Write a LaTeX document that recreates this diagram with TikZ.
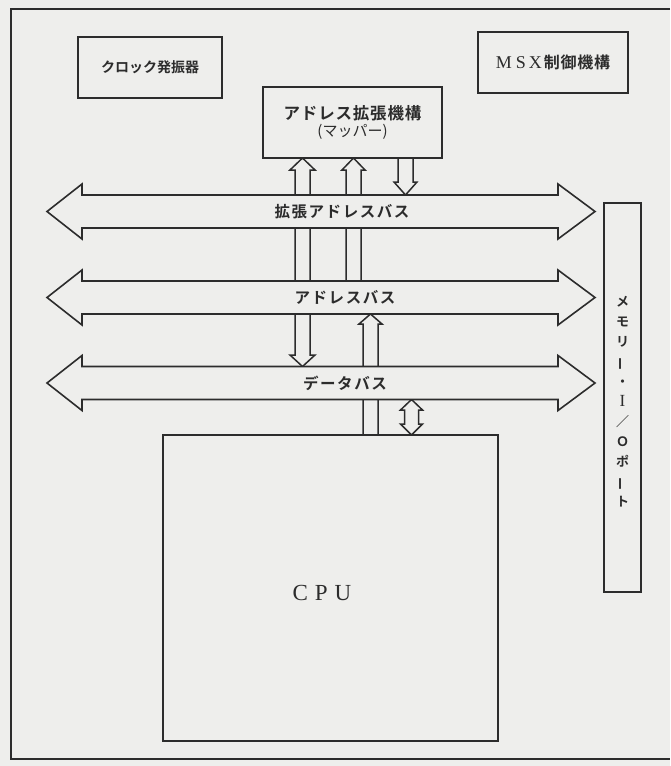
\documentclass[tikz,border=0pt]{standalone}
\usepackage{fontspec}
\usepackage{graphicx}
\setmainfont{Liberation Serif}
\newfontfamily\jp{Noto Sans CJK JP}
\newfontfamily\jpb{Noto Sans CJK JP Bold}
\newfontfamily\jpbls[LetterSpace=10]{Noto Sans CJK JP Bold}
\newfontfamily\jpblsb[LetterSpace=5]{Noto Sans CJK JP Bold}
\definecolor{ink}{HTML}{2C2C2C}
\definecolor{bg}{HTML}{EEEEEC}
\newcommand\vbar{\rotatebox[origin=c]{90}{ー}}
\begin{document}
\begin{tikzpicture}[x=1pt,y=-1pt,
  every node/.style={inner sep=0pt, text=ink},
  blockbox/.style={draw=ink, fill=bg, line width=1.6pt, minimum width=#1},
  conn/.style={draw=ink, fill=bg, line width=1.5pt, line join=miter},
  busline/.style={draw=ink, fill=bg, line width=1.6pt, line join=miter},
  buslabel/.style={font=\jpbls\fontsize{15.5}{18}\selectfont},
  frame/.style={draw=ink, line width=1.4pt}]
\useasboundingbox[fill=bg] (0,0) rectangle (670,766);
\draw[frame] (670,9) -- (11,9) -- (11,759) -- (670,759);

% connectors (drawn first, covered by boxes and buses)
% A: mapper <-> data bus
\draw[conn] (302.5,158) -- (315,170) -- (310,170) -- (310,355) -- (315,355) -- (302.5,366.5)
  -- (290,355) -- (295,355) -- (295,170) -- (290,170) -- cycle;
% B: address bus -> mapper
\draw[conn] (353.5,158) -- (365,170) -- (361,170) -- (361,290) -- (346,290) -- (346,170) -- (342,170) -- cycle;
% C: mapper -> extended address bus
\draw[conn] (398,150) -- (413,150) -- (413,182) -- (417,182) -- (405.5,195) -- (394,182) -- (398,182) -- cycle;
% D: CPU -> address bus
\draw[conn] (370.5,314) -- (382,324) -- (378,324) -- (378,445) -- (363,445) -- (363,324) -- (359,324) -- cycle;
% E: data bus <-> CPU
\draw[conn] (411.5,399.5) -- (422.5,410) -- (418.5,410) -- (418.5,424) -- (422.5,424) -- (411.5,435)
  -- (400.5,424) -- (404.5,424) -- (404.5,410) -- (400.5,410) -- cycle;

% buses
\newcommand\busdraw[4]{%
  \draw[busline] (47,#2) -- (82,#2-27.5) -- (82,#2-16.5) -- (558,#2-16.5) -- (558,#2-27.5)
    -- (595,#2) -- (558,#2+27.5) -- (558,#2+16.5) -- (82,#2+16.5) -- (82,#2+27.5) -- cycle;
  \node[buslabel] (#1) at (#4,#2) {#3};}
\busdraw{ebus}{211.5}{拡張アドレスバス}{342}
\busdraw{abus}{297.5}{アドレスバス}{345}
\busdraw{dbus}{383}{データバス}{345}

% boxes
\node[blockbox=144pt, minimum height=61pt, font=\jpb\fontsize{14}{16}\selectfont] (clock) at (150,67.5) {クロック発振器};
\node[blockbox=150pt, minimum height=61pt] (msx) at (553,62.5)
  {\fontsize{18}{20}\selectfont M\hspace{4pt}S\hspace{3pt}X\hspace{2pt}{\jpblsb\fontsize{16}{18}\selectfont 制御機構}};
\node[blockbox=179pt, minimum height=71pt, align=center] (mapper) at (352.5,122.5)
  {{\jpblsb\fontsize{16.5}{17}\selectfont アドレス拡張機構}\\[2pt]{\jp\fontsize{15}{15}\selectfont (マッパー)}};
\node[blockbox=335pt, minimum height=306pt] (cpu) at (330.5,588) {};
\node[font=\fontsize{23}{24}\selectfont] (cpulabel) at (322,593) {C\hspace{7pt}P\hspace{7pt}U};
\node[blockbox=37pt, minimum height=389pt] (mem) at (622.5,397.5) {};
\node[font=\jpb\fontsize{13}{20}\selectfont, align=center] (memlabel) at (622.5,402)
  {メ\\モ\\リ\\\vbar\\・\\{\rmfamily\fontsize{17}{20}\selectfont I}\\／\\Ｏ\\ポ\\\vbar\\ト};
\end{tikzpicture}
\end{document}
